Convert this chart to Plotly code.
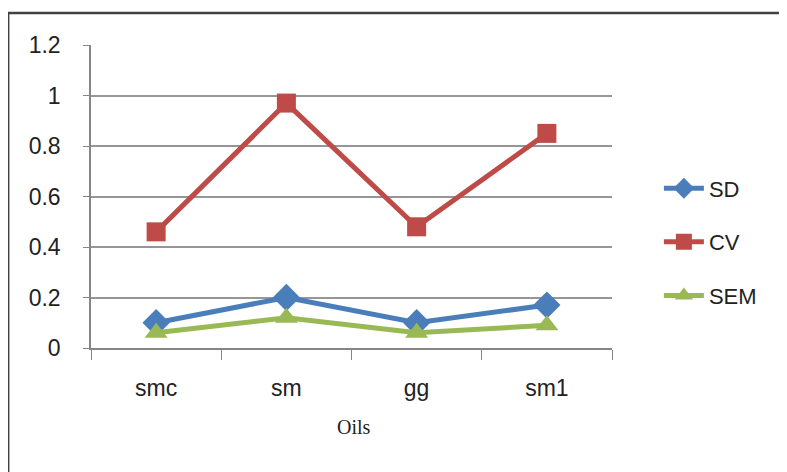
import plotly.graph_objects as go

categories = ["smc", "sm", "gg", "sm1"]
sd = [0.10, 0.20, 0.10, 0.17]
cv = [0.46, 0.97, 0.48, 0.85]
sem = [0.06, 0.12, 0.06, 0.09]
y_ticks = [0, 0.2, 0.4, 0.6, 0.8, 1, 1.2]
x_title = "Oils"

tick_font = dict(family="Liberation Sans, Arial, sans-serif", size=23, color="#222222")

fig = go.Figure()
series = [
    ("SD", sd, "#4A7EBB", "diamond", 21),
    ("CV", cv, "#BE4B48", "square", 19),
    ("SEM", sem, "#98B954", "triangle-up", 20),
]
for name, vals, color, sym, size in series:
    fig.add_trace(go.Scatter(
        x=categories, y=vals, name=name, mode="lines+markers",
        line=dict(color=color, width=5),
        marker=dict(symbol=sym, size=size, color=color),
        legendgroup=name,
    ))

fig.update_layout(
    width=787, height=472,
    margin=dict(l=83, r=183, t=37, b=132),
    paper_bgcolor="white", plot_bgcolor="white",
    showlegend=True,
    legend=dict(
        x=1.09, y=0.35, xanchor="left", yanchor="middle",
        font=dict(family="Liberation Sans, Arial, sans-serif", size=22, color="#222222"),
        tracegroupgap=22, itemwidth=40,
    ),
    xaxis=dict(
        type="category", range=[-0.5, 3.5], showgrid=False,
        showline=True, linecolor="#868686", linewidth=1.5,
        ticks="outside", tickson="boundaries", ticklen=10, tickcolor="#868686",
        tickfont=tick_font, ticklabelstandoff=19,
    ),
    yaxis=dict(
        range=[0, 1.2], tickvals=y_ticks, showgrid=True, gridcolor="#969696", gridwidth=1.5,
        showline=True, linecolor="#868686", linewidth=1.5, zeroline=False,
        ticks="outside", ticklen=6, tickcolor="#868686",
        tickfont=tick_font, ticklabelstandoff=18,
    ),
    annotations=[dict(
        text=x_title, xref="paper", yref="paper", x=0.505, y=-0.262,
        xanchor="center", yanchor="middle", showarrow=False,
        font=dict(family="Liberation Serif, serif", size=20, color="#222222"),
    )],
    shapes=[dict(
        type="rect", xref="paper", yref="paper",
        x0=-0.159, y0=-1.0, x1=2.0, y1=1.106,
        line=dict(color="#404040", width=2.5), fillcolor="rgba(0,0,0,0)",
        layer="below",
    )],
)

fig.write_html("out.html")
